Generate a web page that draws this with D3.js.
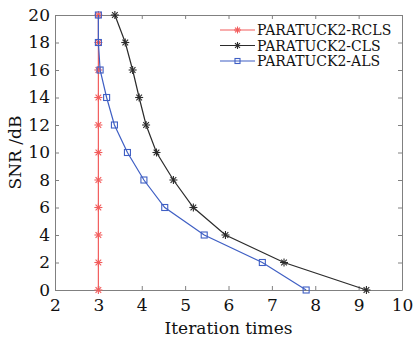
<!DOCTYPE html>
<html>
<head>
<meta charset="utf-8">
<script src="https://cdn.jsdelivr.net/npm/d3@7"></script>
<style>
  body { margin: 0; background: #fff; }
  text { font-family: "DejaVu Serif", serif; }
</style>
</head>
<body>
<div id="chart"></div>
<script>
const snr = [0, 2, 4, 6, 8, 10, 12, 14, 16, 18, 20];
const rclsIter = [3, 3, 3, 3, 3, 3, 3, 3, 3, 3, 3];
const clsIter = [9.18, 7.28, 5.93, 5.19, 4.73, 4.34, 4.1, 3.94, 3.79, 3.62, 3.38];
const alsIter = [7.79, 6.78, 5.44, 4.53, 4.05, 3.67, 3.37, 3.19, 3.04, 3.0, 3.0];
const seriesNames = ['PARATUCK2-RCLS', 'PARATUCK2-CLS', 'PARATUCK2-ALS'];
const xTicks = [2, 3, 4, 5, 6, 7, 8, 9, 10];
const yTicks = [0, 2, 4, 6, 8, 10, 12, 14, 16, 18, 20];

const W = 417, H = 342;
const margin = { top: 15, right: 15, bottom: 52, left: 55 };
const width = W - margin.left - margin.right;
const height = H - margin.top - margin.bottom;

const svg = d3.select('#chart').append('svg')
  .attr('width', W).attr('height', H);
const g = svg.append('g')
  .attr('transform', `translate(${margin.left},${margin.top})`);

const x = d3.scaleLinear().domain([2, 10]).range([0, width]);
const y = d3.scaleLinear().domain([0, 20]).range([height, 0]);

const axisColor = '#808080';
// axes with inward ticks, box on all sides
const styleAxis = sel => {
  sel.select('.domain').attr('stroke', axisColor);
  sel.selectAll('.tick line').attr('stroke', axisColor);
  sel.selectAll('.tick text').attr('fill', '#111').style('font-size', '17px');
};
g.append('g').attr('transform', `translate(0,${height})`)
  .call(d3.axisBottom(x).tickValues(xTicks).tickSize(-4).tickSizeOuter(0).tickPadding(9))
  .call(styleAxis);
g.append('g')
  .call(d3.axisLeft(y).tickValues(yTicks).tickSize(-4).tickSizeOuter(0).tickPadding(5))
  .call(styleAxis);
g.append('g')
  .call(d3.axisTop(x).tickValues(xTicks).tickSize(-4).tickSizeOuter(0).tickFormat(''))
  .call(styleAxis);
g.append('g').attr('transform', `translate(${width},0)`)
  .call(d3.axisRight(y).tickValues(yTicks).tickSize(-4).tickSizeOuter(0).tickFormat(''))
  .call(styleAxis);

// axis titles
svg.append('text')
  .attr('x', margin.left + width / 2).attr('y', H - 8)
  .attr('text-anchor', 'middle').style('font-size', '17px').attr('fill', '#111')
  .text('Iteration times');
svg.append('text')
  .attr('transform', `translate(21,${margin.top + height / 2}) rotate(-90)`)
  .attr('text-anchor', 'middle').style('font-size', '17px').attr('fill', '#111')
  .text('SNR /dB');

const colors = ['#f25c5c', '#2b2b2b', '#3f5fc4'];
const series = [rclsIter, clsIter, alsIter].map((vals, i) => ({
  name: seriesNames[i], color: colors[i], marker: i === 2 ? 'square' : 'star',
  points: vals.map((v, j) => ({ x: v, y: snr[j] }))
}));

const line = d3.line().x(d => x(d.x)).y(d => y(d.y));

function drawMarker(sel, type, color, size) {
  if (type === 'square') {
    sel.append('rect')
      .attr('x', -size / 2).attr('y', -size / 2)
      .attr('width', size).attr('height', size)
      .attr('fill', 'none').attr('stroke', color).attr('stroke-width', 1.1);
  } else {
    const r = size / 2;
    [0, 45, 90, 135].forEach(a => {
      const rad = a * Math.PI / 180;
      sel.append('line')
        .attr('x1', -r * Math.cos(rad)).attr('y1', -r * Math.sin(rad))
        .attr('x2', r * Math.cos(rad)).attr('y2', r * Math.sin(rad))
        .attr('stroke', color).attr('stroke-width', 1.1);
    });
  }
}

// draw back to front: CLS, ALS, RCLS
[1, 0, 2].forEach(i => {
  const s = series[i];
  g.append('path').datum(s.points)
    .attr('fill', 'none').attr('stroke', s.color).attr('stroke-width', 1.2)
    .attr('d', line);
  g.selectAll(`.m${i}`).data(s.points).enter().append('g')
    .attr('class', `m${i}`)
    .attr('transform', d => `translate(${x(d.x)},${y(d.y)})`)
    .each(function () { drawMarker(d3.select(this), s.marker, s.color, s.marker === 'square' ? 6 : 8); });
});

// legend
const lg = svg.append('g').attr('transform', 'translate(220,30)');
series.forEach((s, i) => {
  const row = lg.append('g').attr('transform', `translate(0,${i * 15.5})`);
  row.append('line').attr('x1', 0).attr('x2', 35).attr('y1', 0).attr('y2', 0)
    .attr('stroke', s.color).attr('stroke-width', 1.2);
  const m = row.append('g').attr('transform', 'translate(17.5,0)');
  drawMarker(m, s.marker, s.color, s.marker === 'square' ? 5 : 7);
  row.append('text').attr('x', 37).attr('y', 5)
    .style('font-size', '14px').attr('fill', '#111').text(s.name);
});
</script>
</body>
</html>
